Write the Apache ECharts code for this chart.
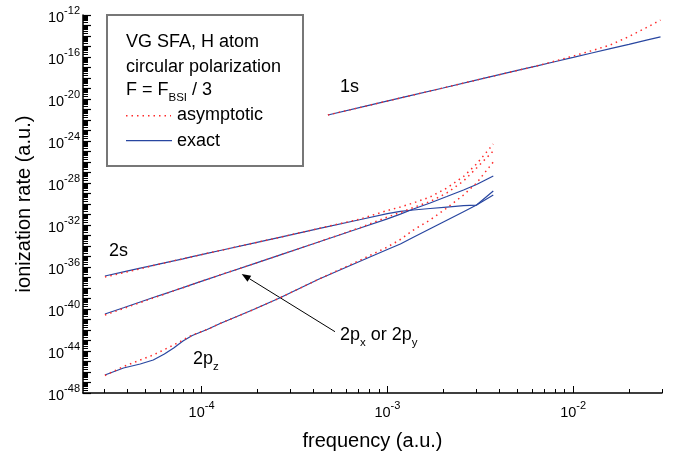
<!DOCTYPE html>
<html>
<head>
<meta charset="utf-8">
<script src="https://cdn.jsdelivr.net/npm/echarts@6.0.0/dist/echarts.min.js"></script>
<style>
  html, body { margin: 0; padding: 0; background: #fff; }
  #chart { width: 677px; height: 461px; }
</style>
</head>
<body>
<div id="chart"></div>
<script>
// log10 of frequency (a.u.) for the n = 2 curves
const logFreq = [-4.52, -4.42, -4.33, -4.26, -4.20, -4.15, -4.10, -4.05, -3.97, -3.90, -3.72,
  -3.58, -3.37, -3.15, -3.00, -2.93, -2.86, -2.77, -2.68, -2.59, -2.52, -2.43];
// log10 of ionization rate (a.u.)
const s2Exact = [-36.86, -36.47, -36.11, -35.84, -35.61, -35.41, -35.22, -35.02, -34.70, -34.43, -33.72,
  -33.18, -32.35, -31.50, -30.91, -30.71, -30.57, -30.43, -30.29, -30.16, -30.10, -29.14];
const s2Asym = [-36.95, -36.54, -36.17, -35.86, -35.62, -35.41, -35.22, -35.02, -34.70, -34.43, -33.72,
  -33.18, -32.33, -31.45, -30.62, -30.29, -29.90, -29.33, -28.48, -27.38, -26.19, -24.29];
const p2xExact = [-40.48, -39.88, -39.33, -38.91, -38.56, -38.26, -37.96, -37.66, -37.18, -36.76, -35.70,
  -34.87, -33.62, -32.31, -31.42, -30.96, -30.48, -29.90, -29.29, -28.67, -28.14, -27.33];
const p2xAsym = [-40.57, -39.95, -39.39, -38.95, -38.58, -38.27, -37.97, -37.66, -37.18, -36.76, -35.70,
  -34.87, -33.62, -32.27, -31.24, -30.81, -30.33, -29.76, -28.95, -27.81, -26.57, -24.95];
const p2zExact = [-46.29, -45.62, -45.24, -44.86, -44.29, -43.71, -43.05, -42.52, -41.95, -41.38, -40.05,
  -38.95, -37.16, -35.48, -34.34, -33.81, -33.16, -32.35, -31.54, -30.73, -30.10, -28.76];
const p2zAsym = [-46.33, -45.48, -44.86, -44.38, -43.86, -43.43, -42.95, -42.48, -41.95, -41.38, -40.05,
  -38.95, -37.16, -35.38, -34.10, -33.38, -32.48, -31.52, -30.38, -29.14, -28.00, -26.00];

// 1s curve
const logFreq1s = [-3.32, -3.10, -2.90, -2.70, -2.50, -2.30, -2.20, -2.10, -2.00, -1.90, -1.80, -1.70, -1.60, -1.53];
const s1Exact = [-21.52, -20.61, -19.78, -18.95, -18.11, -17.28, -16.87, -16.45, -16.04, -15.62, -15.20, -14.79, -14.37, -14.08];
const s1Asym = [-21.52, -20.61, -19.78, -18.95, -18.11, -17.28, -16.87, -16.40, -15.91, -15.40, -14.85, -14.05, -13.15, -12.48];

// tick labels (powers of ten)
const xLabelExps = [-4, -3, -2];
const yLabelExps = [-48, -44, -40, -36, -32, -28, -24, -20, -16, -12];

const X_MIN = -4.638, X_MAX = -1.522, Y_MIN = -48, Y_MAX = -12;
const FONT = '"Liberation Sans", Arial, Helvetica, sans-serif';
const BLUE = '#2846a0';
const RED = '#ff2a2a';

// decade ticks and 2..9 sub ticks in log space
const majorTicks = (lo, hi) => {
  const out = [];
  for (let k = Math.ceil(lo); k <= Math.floor(hi); k++) out.push(k);
  return out;
};
const minorTicks = (lo, hi) => {
  const out = [];
  for (let k = Math.floor(lo); k < Math.ceil(hi); k++) {
    for (let m = 2; m <= 9; m++) {
      const v = k + Math.log10(m);
      if (v > lo && v < hi) out.push(v);
    }
  }
  return out;
};

const powRich = {
  b: {fontSize: 14.5, fontFamily: FONT, color: '#000', lineHeight: 20, verticalAlign: 'bottom'},
  s: {fontSize: 11, fontFamily: FONT, color: '#000', verticalAlign: 'top'}
};
const powFormatter = v => '{b|10}{s|' + Math.round(v) + '}';
const pairs = (xs, ys) => xs.map((x, i) => [x, ys[i]]);

const axisBlack = {color: '#000', width: 1.5};

const chart = echarts.init(document.getElementById('chart'));

const exactLine = {color: BLUE, width: 1.2};
const asymLine = {color: RED, width: 1.5, type: [1.5, 4]};
const curve = (name, xs, ys, style) => ({
  type: 'line', name, data: pairs(xs, ys), showSymbol: false, symbol: 'none',
  lineStyle: style, silent: true, animation: false
});

const subRich = {
  sub: {fontSize: 11.5, fontFamily: FONT, fill: '#000', verticalAlign: 'bottom'}
};
const txt = (x, y, text, rich) => ({
  type: 'text', x, y,
  style: {text, fill: '#000', fontSize: 18, fontFamily: FONT, align: 'left', verticalAlign: 'middle',
    lineHeight: 27, rich: rich || undefined}
});

const option = {
  animation: false,
  grid: {left: 83, right: 15, top: 15, bottom: 68, containLabel: false, outerBoundsMode: 'none'},
  xAxis: [
    {
      type: 'value', min: X_MIN, max: X_MAX, position: 'bottom',
      name: 'frequency (a.u.)', nameLocation: 'middle', nameGap: 38, nameMoveOverlap: false,
      nameTextStyle: {fontSize: 20, fontFamily: FONT, color: '#000'},
      axisLine: {show: true, onZero: false, lineStyle: axisBlack},
      axisTick: {show: true, inside: true, length: 7, customValues: majorTicks(X_MIN, X_MAX), lineStyle: {color: '#000', width: 1}},
      axisLabel: {customValues: xLabelExps, formatter: powFormatter, margin: 7, rich: powRich},
      splitLine: {show: false}
    },
    {
      type: 'value', min: X_MIN, max: X_MAX, position: 'bottom',
      axisLine: {show: false},
      axisTick: {show: true, inside: true, length: 4, customValues: minorTicks(X_MIN, X_MAX), lineStyle: {color: '#000', width: 1}},
      axisLabel: {show: false},
      splitLine: {show: false}
    }
  ],
  yAxis: [
    {
      type: 'value', min: Y_MIN, max: Y_MAX, position: 'left',
      name: 'ionization rate (a.u.)', nameLocation: 'middle', nameGap: 49, nameMoveOverlap: false,
      nameTextStyle: {fontSize: 20, fontFamily: FONT, color: '#000'},
      axisLine: {show: true, onZero: false, lineStyle: axisBlack},
      axisTick: {show: true, inside: true, length: 8, customValues: majorTicks(Y_MIN, Y_MAX), lineStyle: {color: '#000', width: 1.2}},
      axisLabel: {customValues: yLabelExps, formatter: powFormatter, margin: 3, rich: powRich},
      splitLine: {show: false}
    },
    {
      type: 'value', min: Y_MIN, max: Y_MAX, position: 'left',
      axisLine: {show: false},
      axisTick: {show: true, inside: true, length: 5, customValues: minorTicks(Y_MIN, Y_MAX), lineStyle: {color: '#000', width: 1}},
      axisLabel: {show: false},
      splitLine: {show: false}
    }
  ],
  series: [
    curve('1s exact', logFreq1s, s1Exact, exactLine),
    curve('2s exact', logFreq, s2Exact, exactLine),
    curve('2px exact', logFreq, p2xExact, exactLine),
    curve('2pz exact', logFreq, p2zExact, exactLine),
    curve('1s asymptotic', logFreq1s, s1Asym, asymLine),
    curve('2s asymptotic', logFreq, s2Asym, asymLine),
    curve('2px asymptotic', logFreq, p2xAsym, asymLine),
    curve('2pz asymptotic', logFreq, p2zAsym, asymLine)
  ],
  graphic: [
    // legend box
    {type: 'rect', shape: {x: 107, y: 15, width: 196, height: 151}, style: {fill: 'none', stroke: '#777', lineWidth: 2}},
    txt(126, 42.5, 'VG SFA, H atom'),
    txt(126, 67, 'circular polarization'),
    txt(126, 90.5, 'F = F{sub|BSI} / 3', subRich),
    {type: 'line', shape: {x1: 126, y1: 115.7, x2: 171, y2: 115.7}, style: {stroke: RED, lineWidth: 1.5, lineDash: [1.5, 4]}},
    txt(177, 115.5, 'asymptotic'),
    {type: 'line', shape: {x1: 126, y1: 140.7, x2: 172, y2: 140.7}, style: {stroke: BLUE, lineWidth: 1.2}},
    txt(177, 141, 'exact'),
    // curve labels
    txt(340, 87.5, '1s'),
    txt(109, 251.5, '2s'),
    txt(193, 359, '2p{sub|z}', subRich),
    txt(340, 335.5, '2p{sub|x} or 2p{sub|y}', subRich),
    // arrow to the 2px / 2py curve
    {type: 'line', shape: {x1: 335, y1: 331.7, x2: 249.4, y2: 278.7}, style: {stroke: '#000', lineWidth: 1}},
    {type: 'polygon', shape: {points: [[241.7, 274], [251.2, 275.8], [247.5, 281.7]]}, style: {fill: '#000'}}
  ]
};

chart.setOption(option);
</script>
</body>
</html>
